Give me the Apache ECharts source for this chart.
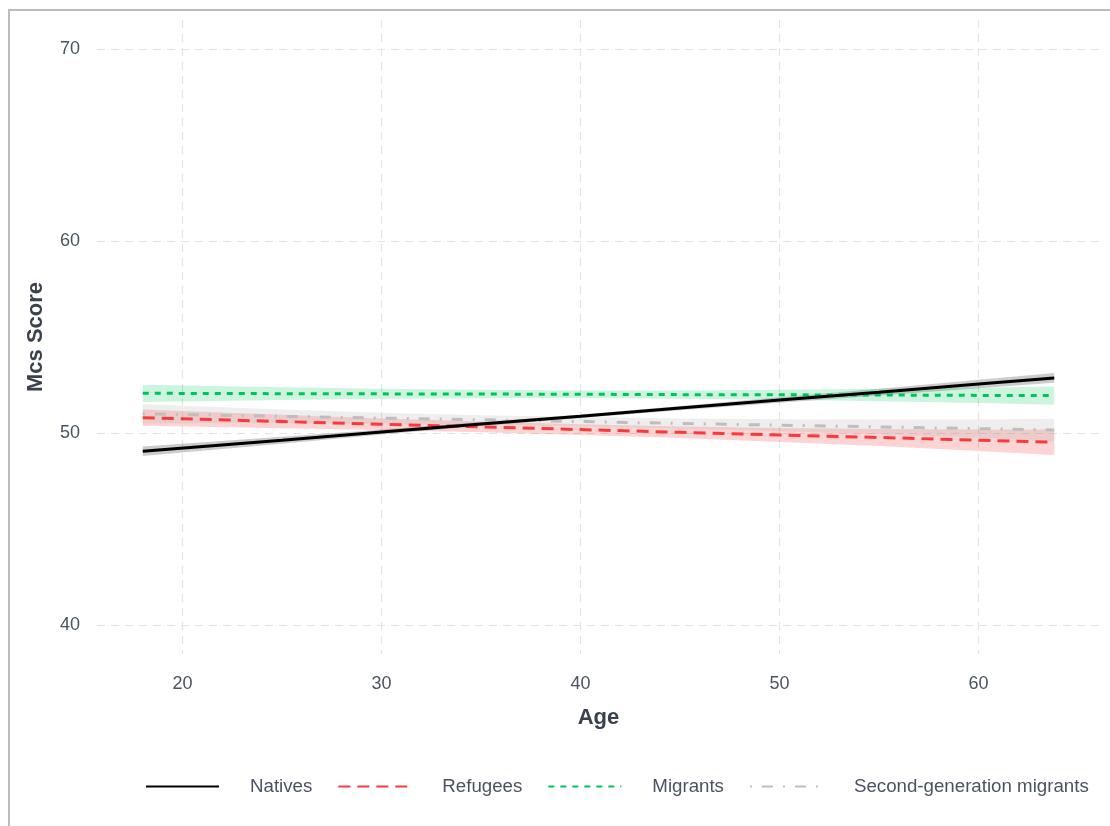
<!DOCTYPE html>
<html>
<head>
<meta charset="utf-8">
<style>
  html, body { margin: 0; padding: 0; background: #ffffff; }
  #chart { position: absolute; left: 0; top: 0; width: 1110px; height: 826px; }
  #frame { position: absolute; left: 8px; top: 9px; width: 1200px; height: 900px;
           border-left: 2px solid #bcbcbc; border-top: 2px solid #bcbcbc; pointer-events: none; }
</style>
<script src="https://cdn.jsdelivr.net/npm/echarts@6/dist/echarts.min.js"></script>
</head>
<body>
<div id="chart"></div>
<div id="frame"></div>
<script>
// Age grid at which the fitted lines and confidence bands are given
const ages = [18, 25, 30, 35, 40, 45, 50, 55, 60, 63.8];

// Predicted MCS score per group
const natives      = [49.05, 49.63, 50.05, 50.47, 50.88, 51.30, 51.72, 52.13, 52.55, 52.87];
const refugees     = [50.80, 50.60, 50.46, 50.32, 50.18, 50.04, 49.90, 49.77, 49.63, 49.52];
const migrants     = [52.07, 52.05, 52.04, 52.03, 52.02, 52.00, 51.99, 51.98, 51.96, 51.95];
const secondGen    = [51.00, 50.87, 50.78, 50.69, 50.60, 50.50, 50.41, 50.32, 50.23, 50.16];

// Confidence band bounds per group
const nativesLo    = [48.80, 49.45, 49.92, 50.37, 50.79, 51.19, 51.58, 51.96, 52.33, 52.62];
const nativesHi    = [49.30, 49.81, 50.18, 50.57, 50.97, 51.41, 51.86, 52.30, 52.77, 53.12];
const refugeesLo   = [50.38, 50.25, 50.16, 50.04, 49.90, 49.74, 49.54, 49.33, 49.07, 48.86];
const refugeesHi   = [51.22, 50.95, 50.76, 50.60, 50.46, 50.34, 50.26, 50.21, 50.19, 50.18];
const migrantsLo   = [51.62, 51.72, 51.78, 51.81, 51.82, 51.78, 51.73, 51.66, 51.56, 51.48];
const migrantsHi   = [52.52, 52.38, 52.30, 52.25, 52.22, 52.22, 52.25, 52.30, 52.36, 52.42];
const secondGenLo  = [50.50, 50.52, 50.50, 50.45, 50.36, 50.24, 50.10, 49.94, 49.75, 49.58];
const secondGenHi  = [51.50, 51.22, 51.06, 50.93, 50.84, 50.76, 50.72, 50.70, 50.71, 50.74];

// Tick labels
const xTicks = [20, 30, 40, 50, 60];
const yTicks = [40, 50, 60, 70];

const groupNames = ['Natives', 'Refugees', 'Migrants', 'Second-generation migrants'];

const textColor = '#4b5262';
const titleColor = '#3a404c';
const fontFamily = '"Liberation Sans", Arial, sans-serif';

function pairs(xs, ys) { return xs.map((x, i) => [x, ys[i]]); }

// Confidence band: one polygon built from the lower edge and the reversed upper edge
function band(key, lo, hi, color) {
  const rows = ages.map((a, i) => [a, lo[i], hi[i]]);
  return {
    name: key + '-band', type: 'custom', data: rows, silent: true, z: 1,
    encode: { x: 0, y: [1, 2] },
    renderItem: function (params, api) {
      if (params.dataIndex !== 0) return null;
      const pts = [];
      for (let i = 0; i < rows.length; i++) pts.push(api.coord([rows[i][0], rows[i][1]]));
      for (let i = rows.length - 1; i >= 0; i--) pts.push(api.coord([rows[i][0], rows[i][2]]));
      return { type: 'polygon', shape: { points: pts }, style: { fill: color, stroke: null } };
    }
  };
}

const series = [
  band('nat', nativesLo, nativesHi, 'rgba(0,0,0,0.2)'),
  band('ref', refugeesLo, refugeesHi, 'rgba(248,60,60,0.22)'),
  band('mig', migrantsLo, migrantsHi, 'rgba(0,200,90,0.2)'),
  band('sec', secondGenLo, secondGenHi, 'rgba(170,170,170,0.2)'),
  { name: groupNames[3], type: 'line', data: pairs(ages, secondGen), symbol: 'none', z: 3,
    itemStyle: { color: '#bebebe' },
    lineStyle: { color: '#bebebe', width: 3, type: [2, 10, 11, 10] } },
  { name: groupNames[2], type: 'line', data: pairs(ages, migrants), symbol: 'none', z: 4,
    itemStyle: { color: '#00c35a' },
    lineStyle: { color: '#00c35a', width: 3, type: [6, 6] } },
  { name: groupNames[1], type: 'line', data: pairs(ages, refugees), symbol: 'none', z: 5,
    itemStyle: { color: '#f73b3d' },
    lineStyle: { color: '#f73b3d', width: 3, type: [12, 7] } },
  { name: groupNames[0], type: 'line', data: pairs(ages, natives), symbol: 'none', z: 6,
    itemStyle: { color: '#000000' },
    lineStyle: { color: '#000000', width: 3 } }
];

const gridLine = { show: true, lineStyle: { color: '#e4e4e4', width: 1.2, type: [8, 6] } };

const option = {
  animation: false,
  backgroundColor: '#ffffff',
  textStyle: { fontFamily: fontFamily },
  grid: { left: 97, right: 10, top: 20, bottom: 172, containLabel: false },
  xAxis: {
    type: 'value', min: 15.7, max: 66.1,
    name: 'Age', nameLocation: 'middle', nameGap: 53,
    nameTextStyle: { color: titleColor, fontSize: 22, fontWeight: 'bold', fontFamily: fontFamily },
    axisLine: { show: false }, axisTick: { show: false, customValues: xTicks },
    axisLabel: { customValues: xTicks, color: textColor, fontSize: 18, margin: 21, fontFamily: fontFamily },
    splitLine: gridLine
  },
  yAxis: {
    type: 'value', min: 38.5, max: 71.5,
    name: 'Mcs Score', nameLocation: 'middle', nameGap: 50,
    nameTextStyle: { color: titleColor, fontSize: 22, fontWeight: 'bold', fontFamily: fontFamily },
    axisLine: { show: false }, axisTick: { show: false, customValues: yTicks },
    axisLabel: { customValues: yTicks, color: textColor, fontSize: 18, margin: 17, fontFamily: fontFamily },
    splitLine: gridLine
  },
  legend: {
    data: groupNames,
    orient: 'horizontal', left: 145, top: 777, padding: 0,
    itemWidth: 73, itemHeight: 16, itemGap: 25,
    itemStyle: { opacity: 0 },
    textStyle: { color: textColor, fontSize: 18.7, fontFamily: fontFamily, padding: [0, 0, 0, 26] }
  },
  series: series
};

const chart = echarts.init(document.getElementById('chart'), null, { renderer: 'canvas' });
chart.setOption(option);
</script>
</body>
</html>
